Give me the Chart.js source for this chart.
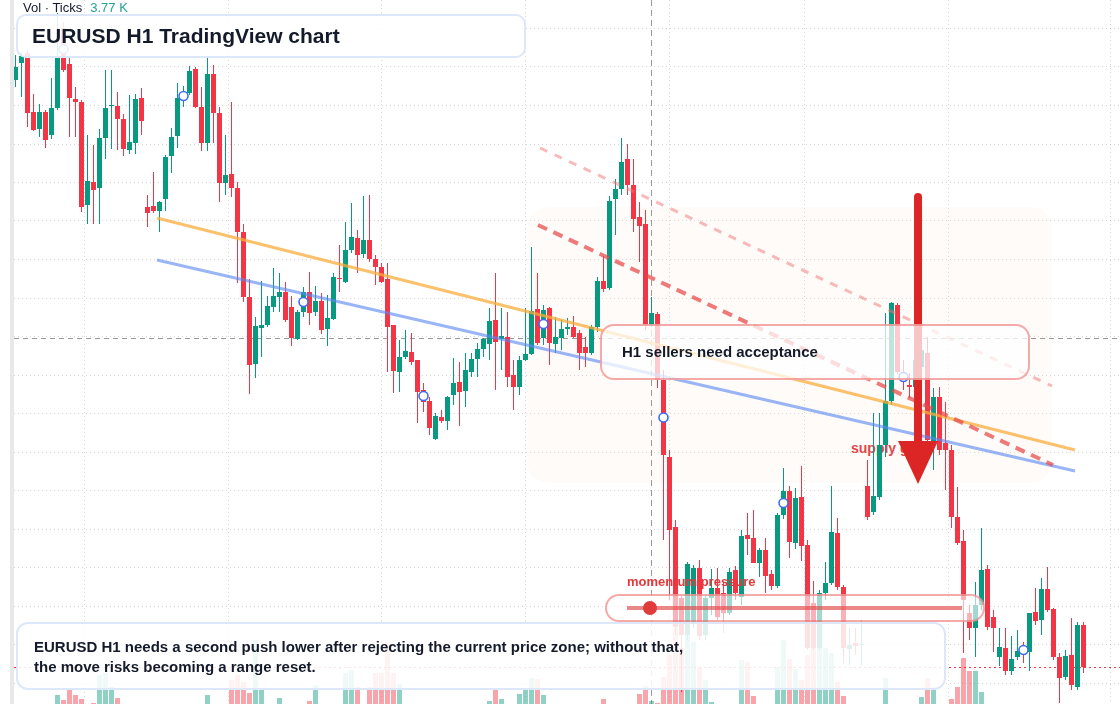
<!DOCTYPE html>
<html>
<head>
<meta charset="utf-8">
<title>EURUSD H1 TradingView chart</title>
<script src="https://cdn.jsdelivr.net/npm/chart.js@4.4.1/dist/chart.umd.min.js"></script>
<style>
  html, body { margin: 0; padding: 0; background: #fff; }
  body { width: 1120px; height: 704px; position: relative; overflow: hidden;
         font-family: "Liberation Sans", Arial, sans-serif; color: #131a2a; }
  #chart { position: absolute; left: 0; top: 0; z-index: 1; }
  .under { position: absolute; z-index: 0; }
  .over { position: absolute; z-index: 2; box-sizing: border-box; }
  #leftbar { left: 10px; top: 0; width: 4px; height: 704px; background: #e8e8e8; }
  #vol { left: 23px; top: 0; font-size: 13px; line-height: 16px; white-space: nowrap; }
  #vol span { color: #22a58f; margin-left: 8px; }
  #title { left: 16px; top: 14px; width: 510px; height: 44px; border: 2px solid #dce7fa;
           border-radius: 10px; background: rgba(255,255,255,0.88); font-weight: bold;
           font-size: 21px; line-height: 40px; padding-left: 14px; white-space: nowrap; }
  #note { left: 600px; top: 324px; width: 430px; height: 56px; border: 2px solid rgba(236,100,100,0.55);
          border-radius: 14px; background: rgba(255,255,255,0.74); font-weight: bold;
          font-size: 15px; line-height: 52px; padding-left: 20px; white-space: nowrap; }
  #momLabel { left: 627px; top: 574px; font-weight: bold; font-size: 13px; line-height: 16px;
              color: #e5383b; white-space: nowrap; }
  #slider { left: 605px; top: 594px; width: 380px; height: 28px; border: 2px solid rgba(236,100,100,0.55);
            border-radius: 14px; background: rgba(255,255,255,0.62); }
  #sliderLine { left: 627px; top: 606px; width: 335px; height: 4px; background: rgba(226,70,70,0.65); }
  #sliderDot { left: 643px; top: 601px; width: 14px; height: 14px; border-radius: 50%; background: #e23b3b; }
  #supply { left: 851px; top: 439px; font-weight: bold; font-size: 14px; line-height: 18px;
            color: #e0393e; white-space: nowrap; }
  #summary { left: 16px; top: 622px; width: 930px; height: 68px; border: 2px solid #dce7fa;
             border-radius: 12px; background: rgba(255,255,255,0.86); font-weight: bold;
             font-size: 15px; line-height: 20px; padding: 13px 0 0 16px; }
</style>
</head>
<body>
<div id="leftbar" class="under"></div>
<div id="supply" class="under">supply gate</div>
<canvas id="chart" width="1120" height="704"></canvas>
<div id="vol" class="over">Vol · Ticks<span>3.77 K</span></div>
<div id="title" class="over">EURUSD H1 TradingView chart</div>
<div id="note" class="over">H1 sellers need acceptance</div>
<div id="momLabel" class="over">momentum pressure</div>
<div id="slider" class="over"></div>
<div id="sliderLine" class="over"></div>
<div id="sliderDot" class="over"></div>
<div id="summary" class="over">EURUSD H1 needs a second push lower after rejecting the current price zone; without that,<br>the move risks becoming a range reset.</div>
<script>
// --- H1 bars, oldest first ---
const open = [
  1.09340,1.09374,1.09394,1.09276,1.09242,1.09276,1.09230,1.09284,1.09444,1.09372,
  1.09302,1.09296,1.09090,1.09136,1.09124,1.09224,1.09288,1.09288,1.09262,1.09200,
  1.09214,1.09304,1.09086,1.09088,1.09078,1.09102,1.09188,1.09228,1.09306,1.09314,
  1.09362,1.09286,1.09214,1.09352,1.09274,1.09134,1.09152,1.09124,1.09036,1.08906,
  1.08772,1.08844,1.08850,1.08886,1.08906,1.08916,1.08886,1.08822,1.08876,1.08916,
  1.08876,1.08898,1.08842,1.08862,1.08944,1.08936,1.09000,1.09024,1.08992,1.09020,
  1.08982,1.08966,1.08942,1.08850,1.08756,1.08786,1.08796,1.08780,1.08720,1.08698,
  1.08622,1.08666,1.08658,1.08710,1.08736,1.08718,1.08756,1.08782,1.08802,1.08812,
  1.08860,1.08822,1.08826,1.08750,1.08726,1.08780,1.08792,1.08882,1.08824,1.08884,
  1.08812,1.08824,1.08842,1.08846,1.08834,1.08806,1.08794,1.08846,1.08938,1.08924,
  1.09102,1.09122,1.09182,1.09130,1.09066,1.09052,1.08850,1.08872,1.08740,1.08586,
  1.08446,1.08304,1.08230,1.08254,1.08364,1.08230,1.08304,1.08324,1.08314,1.08274,
  1.08360,1.08306,1.08430,1.08424,1.08374,1.08400,1.08352,1.08328,1.08470,1.08518,
  1.08414,1.08506,1.08410,1.08294,1.08204,1.08314,1.08334,1.08434,1.08326,1.08202,
  1.08214,1.08210,1.08528,1.08476,1.08506,1.08610,1.08698,1.08890,1.08756,1.08730,
  1.08726,1.08766,1.08794,1.08616,1.08706,1.08614,1.08600,1.08466,1.08418,1.08274,
  1.08244,1.08290,1.08362,1.08266,1.08186,1.08204,1.08158,1.08186,1.08204,1.08196,
  1.08276,1.08260,1.08322,1.08282,1.08186,1.08146,1.08190,1.08126,1.08250
];
const high = [
  1.09390,1.09396,1.09400,1.09312,1.09292,1.09280,1.09344,1.09474,1.09456,1.09384,
  1.09326,1.09300,1.09230,1.09210,1.09242,1.09360,1.09360,1.09316,1.09272,1.09310,
  1.09312,1.09324,1.09110,1.09156,1.09098,1.09190,1.09244,1.09334,1.09328,1.09368,
  1.09366,1.09326,1.09384,1.09370,1.09286,1.09230,1.09296,1.09136,1.09052,1.08942,
  1.08866,1.08938,1.08908,1.08964,1.08954,1.08936,1.08908,1.08880,1.08926,1.08956,
  1.08928,1.08914,1.08910,1.08954,1.09010,1.09056,1.09094,1.09040,1.09108,1.09110,
  1.08990,1.08974,1.08974,1.08850,1.08820,1.08840,1.08834,1.08780,1.08734,1.08706,
  1.08674,1.08680,1.08708,1.08784,1.08776,1.08794,1.08794,1.08814,1.08824,1.08884,
  1.08954,1.08884,1.08876,1.08780,1.08788,1.08884,1.09006,1.08954,1.08890,1.08886,
  1.08866,1.08860,1.08864,1.08868,1.08840,1.08826,1.08850,1.08946,1.08988,1.09108,
  1.09142,1.09224,1.09212,1.09182,1.09096,1.09080,1.08906,1.08876,1.08760,1.08600,
  1.08460,1.08308,1.08376,1.08370,1.08380,1.08308,1.08362,1.08364,1.08334,1.08364,
  1.08368,1.08440,1.08474,1.08480,1.08404,1.08424,1.08360,1.08474,1.08564,1.08528,
  1.08524,1.08568,1.08420,1.08338,1.08320,1.08376,1.08528,1.08464,1.08330,1.08244,
  1.08244,1.08260,1.08580,1.08674,1.08674,1.08874,1.08896,1.08894,1.08780,1.08754,
  1.08800,1.08826,1.08826,1.08724,1.08726,1.08696,1.08610,1.08526,1.08440,1.08290,
  1.08336,1.08444,1.08370,1.08280,1.08244,1.08244,1.08228,1.08240,1.08216,1.08274,
  1.08324,1.08344,1.08366,1.08284,1.08194,1.08200,1.08264,1.08256,1.08256
];
const low = [
  1.09326,1.09306,1.09246,1.09238,1.09226,1.09204,1.09222,1.09280,1.09356,1.09226,
  1.09226,1.09076,1.09052,1.09052,1.09052,1.09182,1.09202,1.09200,1.09188,1.09192,
  1.09192,1.09230,1.09046,1.09074,1.09036,1.09078,1.09154,1.09204,1.09286,1.09310,
  1.09284,1.09198,1.09198,1.09214,1.09096,1.09110,1.09106,1.08934,1.08896,1.08712,
  1.08744,1.08786,1.08846,1.08876,1.08876,1.08856,1.08808,1.08820,1.08866,1.08850,
  1.08868,1.08832,1.08808,1.08860,1.08916,1.08934,1.08994,1.08954,1.08984,1.08976,
  1.08930,1.08934,1.08756,1.08714,1.08716,1.08782,1.08770,1.08654,1.08676,1.08630,
  1.08620,1.08654,1.08640,1.08690,1.08648,1.08686,1.08746,1.08746,1.08786,1.08780,
  1.08720,1.08760,1.08726,1.08680,1.08710,1.08778,1.08790,1.08810,1.08810,1.08770,
  1.08794,1.08800,1.08830,1.08824,1.08760,1.08766,1.08790,1.08836,1.08916,1.08920,
  1.09030,1.09110,1.09110,1.09036,1.08976,1.08840,1.08846,1.08724,1.08420,1.08300,
  1.08230,1.08116,1.08220,1.08244,1.08220,1.08220,1.08270,1.08260,1.08234,1.08270,
  1.08300,1.08290,1.08390,1.08374,1.08346,1.08314,1.08320,1.08324,1.08462,1.08384,
  1.08402,1.08378,1.08200,1.08200,1.08200,1.08300,1.08330,1.08320,1.08174,1.08170,
  1.08190,1.08170,1.08460,1.08470,1.08500,1.08586,1.08690,1.08752,1.08720,1.08704,
  1.08710,1.08760,1.08610,1.08560,1.08590,1.08520,1.08444,1.08410,1.08194,1.08220,
  1.08186,1.08280,1.08240,1.08196,1.08168,1.08150,1.08150,1.08180,1.08174,1.08158,
  1.08250,1.08230,1.08276,1.08180,1.08094,1.08140,1.08120,1.08120,1.08154
];
const close = [
  1.09366,1.09388,1.09274,1.09240,1.09276,1.09220,1.09284,1.09384,1.09360,1.09304,
  1.09296,1.09086,1.09138,1.09120,1.09224,1.09284,1.09290,1.09262,1.09202,1.09216,
  1.09302,1.09258,1.09074,1.09078,1.09096,1.09186,1.09226,1.09304,1.09310,1.09358,
  1.09286,1.09214,1.09352,1.09274,1.09134,1.09150,1.09124,1.09036,1.08906,1.08770,
  1.08848,1.08850,1.08888,1.08908,1.08916,1.08860,1.08824,1.08876,1.08916,1.08874,
  1.08898,1.08840,1.08864,1.08946,1.08942,1.09000,1.09026,1.08990,1.09020,1.08982,
  1.08966,1.08936,1.08846,1.08758,1.08786,1.08798,1.08776,1.08716,1.08696,1.08644,
  1.08668,1.08658,1.08706,1.08734,1.08716,1.08760,1.08782,1.08802,1.08822,1.08858,
  1.08816,1.08828,1.08746,1.08726,1.08780,1.08792,1.08878,1.08814,1.08880,1.08814,
  1.08826,1.08842,1.08846,1.08826,1.08794,1.08794,1.08846,1.08938,1.08922,1.09098,
  1.09122,1.09176,1.09130,1.09062,1.09048,1.08850,1.08874,1.08740,1.08590,1.08440,
  1.08246,1.08230,1.08372,1.08364,1.08228,1.08304,1.08324,1.08266,1.08274,1.08356,
  1.08314,1.08428,1.08422,1.08374,1.08400,1.08348,1.08328,1.08470,1.08518,1.08416,
  1.08504,1.08408,1.08204,1.08204,1.08314,1.08334,1.08436,1.08326,1.08204,1.08210,
  1.08208,1.08212,1.08466,1.08508,1.08610,1.08698,1.08894,1.08756,1.08736,1.08726,
  1.08780,1.08800,1.08620,1.08706,1.08600,1.08600,1.08466,1.08414,1.08300,1.08244,
  1.08290,1.08360,1.08246,1.08244,1.08206,1.08158,1.08182,1.08198,1.08196,1.08274,
  1.08258,1.08322,1.08280,1.08186,1.08144,1.08188,1.08130,1.08250,1.08166
];
// tick volume per bar
const volume = [
  0,0,0,0,0,0,0,450,200,700,
  450,250,0,50,1450,1550,850,300,0,0,
  0,0,0,0,0,0,0,0,0,0,
  0,0,450,0,0,0,1200,1450,1100,550,
  3200,700,0,0,300,0,0,0,0,150,
  950,0,0,0,0,1550,1700,850,0,850,
  1550,1550,3100,1550,1000,0,0,0,0,0,
  0,0,0,0,0,0,0,0,0,150,
  700,250,0,0,500,700,1300,1250,450,0,
  0,0,0,0,0,0,0,0,250,0,
  0,0,0,0,500,900,150,50,1350,2450,
  3800,2800,3850,3100,1850,1200,100,0,0,0,
  0,2200,2100,400,0,0,0,1850,3200,2250,
  1750,1200,2450,2800,3200,2800,2550,1100,400,0,
  0,0,0,0,0,1300,0,0,0,0,
  0,350,1300,700,0,0,250,850,2300,1650,
  1650,600,0,0,0,0,0,0,0,0,
  0,0,0,0,0,0,0,0,0
];

// session boundaries (vertical grid) and price grid levels
const sessionStarts = [1, 22, 49, 73, 97, 121, 142, 169];
const priceGrid = [1.09443, 1.09366, 1.09289, 1.09212, 1.09135, 1.09058, 1.08981, 1.08904, 1.08827,
                   1.08750, 1.08673, 1.08596, 1.08519, 1.08442, 1.08365, 1.08288, 1.08211, 1.08134];

// drawings: [bar, price] endpoints
const resistanceLine = [[23.58, 1.09064], [176.58, 1.08600]];
const supportLine = [[23.58, 1.08980], [176.58, 1.08558]];
const channelLine = [[87.08, 1.09050], [172.92, 1.08570]];
const channelUpper = [[87.42, 1.09204], [172.75, 1.08728]];
const markerBars = [8, 28, 48, 68, 88, 108, 128, 148, 168];
const zone = { from: 85.25, to: 172.75, top: 1.09086, bottom: 1.08534 };
const arrow = { bar: 150.42, from: 1.09106, to: 1.08532 };
const crosshair = { bar: 106, price: 1.08824 };

const UP = "#089981", DOWN = "#f23645";
const isUp = open.map((o, i) => close[i] >= o);
const candleColors = isUp.map(u => (u ? UP : DOWN));
const volColors = isUp.map(u => (u ? "rgba(8,153,129,0.45)" : "rgba(242,54,69,0.45)"));
const toPoints = seg => seg.map(p => ({ x: p[0], y: p[1] }));

const drawings = {
  id: "drawings",
  beforeDatasetsDraw(chart) {
    const { ctx, chartArea, scales: { x, y } } = chart;
    ctx.save();
    // highlighted zone
    const zx1 = x.getPixelForValue(zone.from), zx2 = x.getPixelForValue(zone.to);
    const zy1 = y.getPixelForValue(zone.top), zy2 = y.getPixelForValue(zone.bottom);
    ctx.fillStyle = "rgba(240,212,185,0.09)";
    ctx.beginPath();
    ctx.roundRect(zx1, zy1, zx2 - zx1, zy2 - zy1, 22);
    ctx.fill();
    // crosshair
    ctx.strokeStyle = "#9a9a9a";
    ctx.lineWidth = 1;
    ctx.setLineDash([6, 4]);
    const cx = Math.round(x.getPixelForValue(crosshair.bar)) + 0.5;
    ctx.beginPath();
    ctx.moveTo(cx, chartArea.top);
    ctx.lineTo(cx, chartArea.bottom);
    ctx.stroke();
    const cy = Math.round(y.getPixelForValue(crosshair.price)) + 0.5;
    ctx.setLineDash([5, 4]);
    ctx.beginPath();
    ctx.moveTo(chartArea.left, cy);
    ctx.lineTo(chartArea.right, cy);
    ctx.stroke();
    // last price line
    const last = close.length - 1;
    const py = Math.round(y.getPixelForValue(close[last])) + 0.5;
    ctx.strokeStyle = isUp[last] ? UP : DOWN;
    ctx.setLineDash([2, 3]);
    ctx.beginPath();
    ctx.moveTo(chartArea.left, py);
    ctx.lineTo(chartArea.right, py);
    ctx.stroke();
    ctx.restore();
  },
  afterDatasetsDraw(chart) {
    const { ctx, scales: { x, y } } = chart;
    const ax = x.getPixelForValue(arrow.bar);
    const top = y.getPixelForValue(arrow.from);
    const tip = y.getPixelForValue(arrow.to);
    ctx.save();
    ctx.strokeStyle = "#dc2626";
    ctx.fillStyle = "#dc2626";
    ctx.lineWidth = 8;
    ctx.lineCap = "round";
    ctx.beginPath();
    ctx.moveTo(ax, top);
    ctx.lineTo(ax, tip - 40);
    ctx.stroke();
    ctx.beginPath();
    ctx.moveTo(ax - 20, tip - 43);
    ctx.lineTo(ax + 20, tip - 43);
    ctx.lineTo(ax, tip);
    ctx.closePath();
    ctx.fill();
    ctx.restore();
  }
};

const gridOpts = { color: "rgba(165,165,165,0.45)", drawTicks: false, lineWidth: 1 };

new Chart(document.getElementById("chart"), {
  type: "bar",
  data: {
    datasets: [
      {
        label: "markers",
        type: "line",
        data: markerBars.map(i => ({ x: i, y: (open[i] + close[i]) / 2 })),
        showLine: false,
        pointRadius: 4.5,
        pointBorderWidth: 1.6,
        pointBorderColor: "#3d6df2",
        pointBackgroundColor: "#ffffff",
        order: 1
      },
      {
        label: "channel upper",
        type: "line",
        data: toPoints(channelUpper),
        borderColor: "rgba(240,120,120,0.5)",
        borderWidth: 3,
        borderDash: [8, 8],
        pointRadius: 0,
        order: 3
      },
      {
        label: "channel",
        type: "line",
        data: toPoints(channelLine),
        borderColor: "rgba(230,72,72,0.72)",
        borderWidth: 4,
        borderDash: [10, 7],
        pointRadius: 0,
        order: 3
      },
      {
        label: "resistance",
        type: "line",
        data: toPoints(resistanceLine),
        borderColor: "rgba(250,172,60,0.75)",
        borderWidth: 3,
        pointRadius: 0,
        order: 4
      },
      {
        label: "support",
        type: "line",
        data: toPoints(supportLine),
        borderColor: "rgba(90,135,240,0.62)",
        borderWidth: 3,
        pointRadius: 0,
        order: 4
      },
      {
        label: "body",
        data: open.map((o, i) => ({ x: i, y: [o, close[i]] })),
        backgroundColor: candleColors,
        barThickness: 5,
        minBarLength: 1,
        grouped: false,
        inflateAmount: 0,
        order: 8
      },
      {
        label: "wick",
        data: low.map((l, i) => ({ x: i, y: [l, high[i]] })),
        backgroundColor: candleColors,
        barThickness: 1,
        grouped: false,
        inflateAmount: 0,
        order: 9
      },
      {
        label: "volume",
        data: volume.map((v, i) => ({ x: i, y: v })),
        yAxisID: "y2",
        backgroundColor: volColors,
        barThickness: 5,
        grouped: false,
        inflateAmount: 0,
        order: 10
      }
    ]
  },
  options: {
    responsive: false,
    animation: false,
    devicePixelRatio: 1,
    events: [],
    layout: { autoPadding: false, padding: { left: 14, right: 0, top: 0, bottom: 0 } },
    plugins: { legend: { display: false }, tooltip: { enabled: false } },
    scales: {
      x: {
        type: "linear",
        min: -0.25,
        max: 184 + 1 / 12,
        offset: false,
        ticks: { display: false },
        grid: gridOpts,
        border: { display: false, dash: [1, 3] },
        afterBuildTicks: axis => { axis.ticks = sessionStarts.map(v => ({ value: v })); }
      },
      y: {
        type: "linear",
        min: 1.08092,
        max: 1.095,
        ticks: { display: false },
        grid: gridOpts,
        border: { display: false, dash: [1, 3] },
        afterBuildTicks: axis => { axis.ticks = priceGrid.map(v => ({ value: v })); }
      },
      y2: { type: "linear", display: false, min: 0, max: 35200 }
    }
  },
  plugins: [drawings]
});
</script>
</body>
</html>
